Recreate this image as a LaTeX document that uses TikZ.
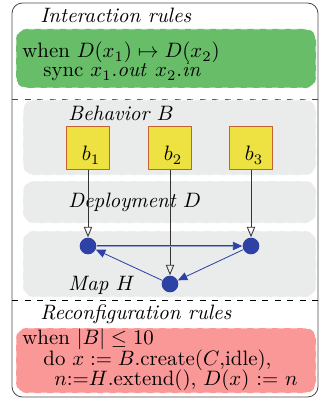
\documentclass[tikz,border=0pt]{standalone}
\usepackage{amssymb,amsmath}
\usepackage{tikz}
\usetikzlibrary{arrows.meta}

\definecolor{rulegreen}{RGB}{104,190,104}
\definecolor{rulered}{RGB}{250,152,152}
\definecolor{layergray}{RGB}{234,235,235}
\definecolor{compyellow}{RGB}{238,226,66}
\definecolor{compborder}{RGB}{196,98,52}
\definecolor{mapblue}{RGB}{46,66,166}

\begin{document}
\begin{tikzpicture}[x=0.48pt,y=-0.48pt,
  region/.style={draw=white,dashed,rounded corners=5pt,fill=#1},
  title/.style={anchor=base west,inner sep=0pt,font=\itshape},
  rule/.style={anchor=base west,inner sep=0pt},
  comp/.style={draw=compborder,fill=compyellow,minimum size=21pt,inner sep=0pt},
  place/.style={circle,fill=mapblue,minimum size=8pt,inner sep=0pt},
  deploy/.style={-{Triangle[open,length=5pt,width=4pt]},black!80,thin},
  link/.style={-{Triangle[length=4.5pt,width=4pt]},mapblue,thin}]
  \useasboundingbox (0,0) rectangle (322,400);
  \draw[black!70,rounded corners=5pt] (12,3) rectangle (318,397);
  \fill[region=rulegreen] (16,29) rectangle (316,88);
  \draw[black!70,dashed] (12,99) -- (318,99);
  \fill[region=layergray] (23,100) rectangle (316,175);
  \fill[region=layergray] (23,181) rectangle (316,223);
  \fill[region=layergray] (23,231) rectangle (316,297);
  \draw[black,dashed] (12,300) -- (318,300);
  \fill[region=rulered] (16,328) rectangle (316,393);

  \node[title] (inter) at (40,23) {Interaction rules};
  \node[rule] (when1) at (22,58) {when $D(x_1)\mapsto D(x_2)$};
  \node[rule] (sync) at (43,77) {sync $x_1.\mathit{out}$ $x_2.\mathit{in}$};

  \node[title] (behav) at (68,121) {Behavior $B$};
  \node[comp] (b1) at (88,148) {};
  \node[comp] (b2) at (170,148) {};
  \node[comp] (b3) at (251,148) {};
  \node (l1) at ([xshift=1.5pt,yshift=-3.5pt]b1.center) {$b_1$};
  \node (l2) at ([xshift=1.5pt,yshift=-3.5pt]b2.center) {$b_2$};
  \node (l3) at ([xshift=1.5pt,yshift=-3.5pt]b3.center) {$b_3$};

  \node[title] (depl) at (68,207) {Deployment $D$};
  \node[title] (maph) at (68,290) {Map $H$};

  \node[place] (h1) at (88,246) {};
  \node[place] (h2) at (170,284) {};
  \node[place] (h3) at (251,246) {};

  \draw[deploy] (b1.south) -- (h1.north);
  \draw[deploy] (b2.south) -- (h2.north);
  \draw[deploy] (b3.south) -- (h3.north);
  \draw[link,double=mapblue!50,double distance=0.3pt] (h1) -- (h3);
  \draw[link] (h3) -- (h2);
  \draw[link] (h2) -- (h1);

  \node[title] (reconf) at (40,319) {Reconfiguration rules};
  \node[rule] (when2) at (22,344) {when $|B|\leq 10$};
  \node[rule] (doline) at (43,365) {do $x := B$.create($C$,idle),};
  \node[rule] (ext) at (54,385) {$n$:=$H$.extend(), $D(x)$ := $n$};
\end{tikzpicture}
\end{document}
